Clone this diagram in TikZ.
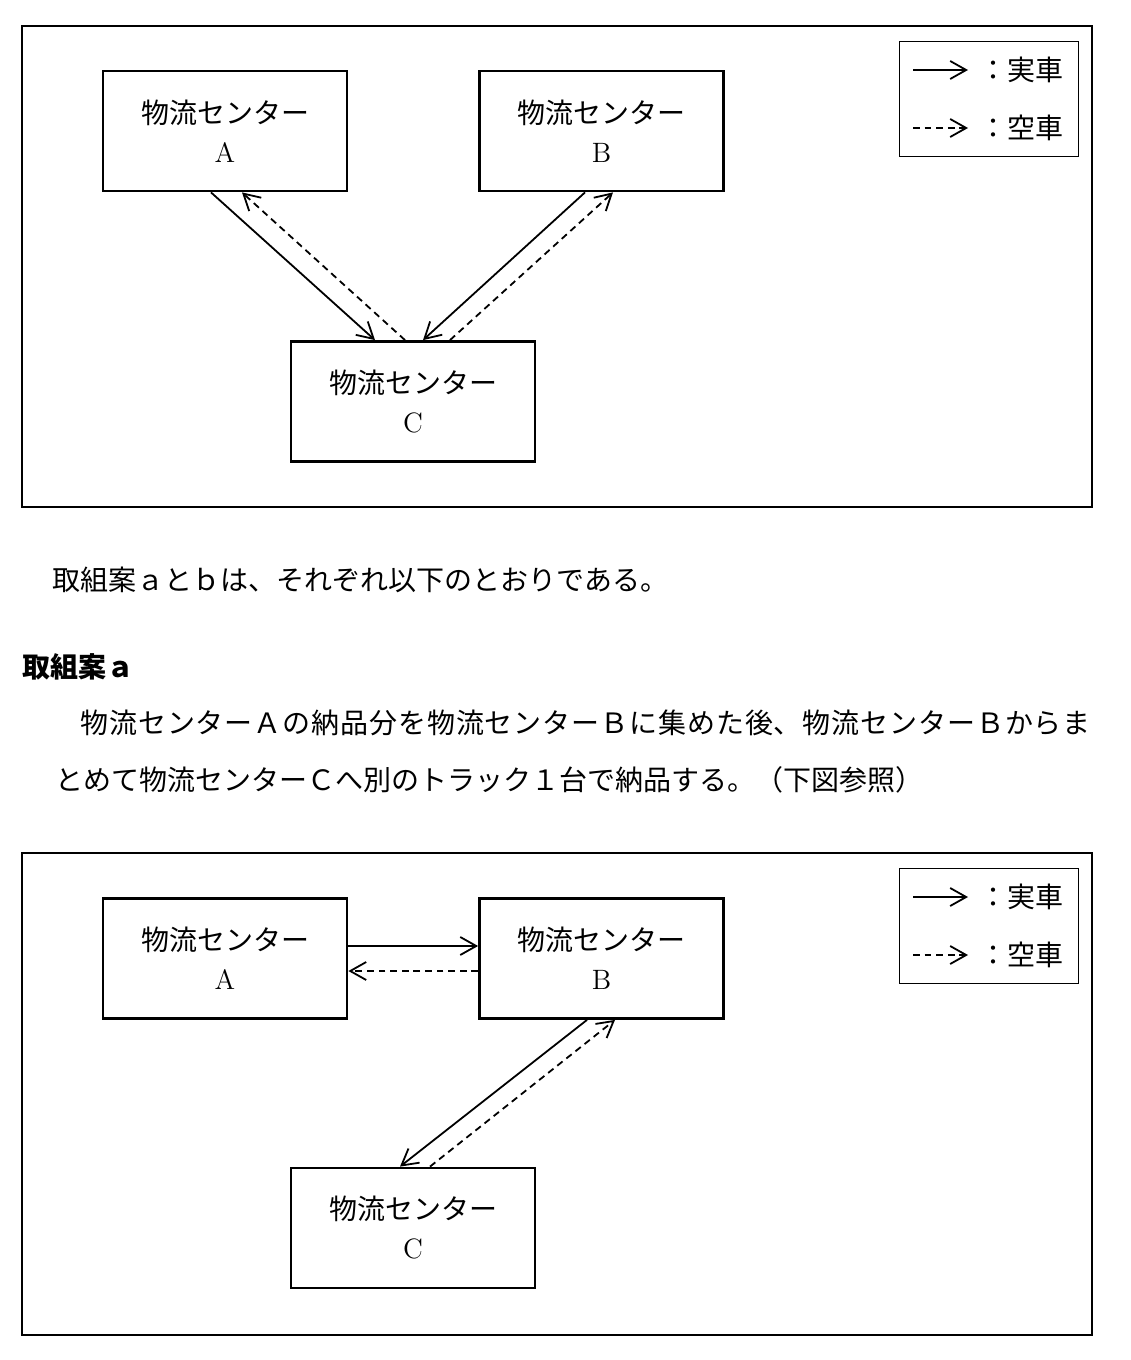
\documentclass[tikz,border=0pt]{standalone}
\usepackage{fontspec}
\newfontfamily\jp{Noto Sans CJK JP}
\usetikzlibrary{arrows.meta}

\tikzset{
  center box/.style={draw, line width=1.4pt, minimum width=122pt, minimum height=60pt,
    align=center, inner sep=0pt, font=\fontsize{14}{19.5}\selectfont},
  loaded/.style={line width=0.9pt, -{Straight Barb[length=8pt,width=9pt]}},
  unloaded/.style={loaded, dash pattern=on 3.4pt off 2.4pt},
  line text/.style={anchor=west, inner sep=0pt, font=\jp\fontsize{14}{14}\selectfont},
  legend text/.style={anchor=west, inner sep=0pt, font=\jp\fontsize{14}{14}\selectfont},
}

\begin{document}
\begin{tikzpicture}[x=0.5pt,y=-0.5pt]
\useasboundingbox (0,0) rectangle (1130,1360);

% upper figure
\draw[line width=1.4pt] (22,26) rectangle (1092,507);
\node[center box] (a1) at (225,131) {{\jp 物流センター}\\A};
\node[center box] (b1) at (601.5,131) {{\jp 物流センター}\\B};
\node[center box] (c1) at (413,401.5) {{\jp 物流センター}\\C};

\draw[loaded] ([xshift=-7pt]a1.south) -- ([xshift=-19pt]c1.north);
\draw[unloaded] ([xshift=-4pt]c1.north) -- ([xshift=8.5pt]a1.south);
\draw[loaded] ([xshift=-8.25pt]b1.south) -- ([xshift=5pt]c1.north);
\draw[unloaded] ([xshift=18.5pt]c1.north) -- ([xshift=5.75pt]b1.south);

\draw[line width=0.5pt] (899,41) rectangle (1078,156);
\coordinate (k1s) at (913,70);
\coordinate (k1e) at (968,70);
\coordinate (k2s) at (913,128);
\coordinate (k2e) at (968,128);
\draw[loaded] (k1s) -- (k1e);
\draw[unloaded] (k2s) -- (k2e);
\node[legend text] (k1) at (979,70) {：実車};
\node[legend text] (k2) at (979,128) {：空車};

% text
\node[line text] (t1) at (52,580) {取組案ａとｂは、それぞれ以下のとおりである。};
\node[line text, font=\jp\bfseries\fontsize{14}{14}\selectfont] (t2) at (22,667) {取組案ａ};
\node[line text] (t3) at (80,723) {\addfontfeatures{LetterSpace=3.2}物流センターＡの納品分を物流センターＢに集めた後、物流センターＢからま};
\node[line text] (t4) at (55,780) {とめて物流センターＣへ別のトラック１台で納品する。（下図参照）};

% lower figure
\draw[line width=1.4pt] (22,853) rectangle (1092,1335);
\node[center box] (a2) at (225,958.5) {{\jp 物流センター}\\A};
\node[center box] (b2) at (601.5,958.5) {{\jp 物流センター}\\B};
\node[center box] (c2) at (413,1228) {{\jp 物流センター}\\C};

\draw[loaded] ([yshift=6.25pt]a2.east) -- ([yshift=6.25pt]b2.west);
\draw[unloaded] ([yshift=-6.25pt]b2.west) -- ([yshift=-6.25pt]a2.east);
\draw[loaded] ([xshift=-7.25pt]b2.south) -- ([xshift=-6.5pt]c2.north);
\draw[unloaded] ([xshift=8.5pt]c2.north) -- ([xshift=6.75pt]b2.south);

\draw[line width=0.5pt] (899,868) rectangle (1078,983);
\coordinate (k3s) at (913,897);
\coordinate (k3e) at (968,897);
\coordinate (k4s) at (913,955);
\coordinate (k4e) at (968,955);
\draw[loaded] (k3s) -- (k3e);
\draw[unloaded] (k4s) -- (k4e);
\node[legend text] (k3) at (979,897) {：実車};
\node[legend text] (k4) at (979,955) {：空車};
\end{tikzpicture}
\end{document}
